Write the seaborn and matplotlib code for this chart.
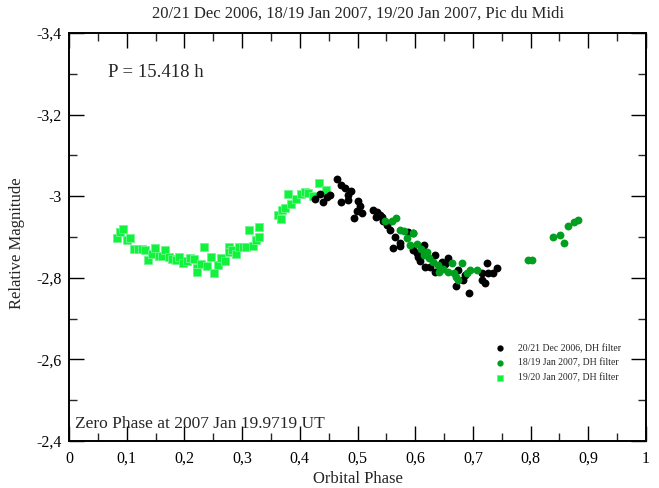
import numpy as np
import pandas as pd
import matplotlib
matplotlib.use("Agg")
import matplotlib.pyplot as plt
from matplotlib.ticker import MultipleLocator, FuncFormatter
import seaborn as sns

# 19/20 Jan 2007 (bright green squares)
jan20_phase = [0.083, 0.088, 0.094, 0.100, 0.106, 0.113, 0.120, 0.127, 0.132, 0.137,
               0.144, 0.149, 0.156, 0.161, 0.166, 0.173, 0.179, 0.185, 0.191, 0.198,
               0.205, 0.210, 0.217, 0.222, 0.222, 0.229, 0.234, 0.239, 0.246, 0.251,
               0.258, 0.263, 0.270, 0.277, 0.277, 0.283, 0.289, 0.295, 0.302, 0.307,
               0.312, 0.319, 0.324, 0.329, 0.329, 0.362, 0.367, 0.369, 0.374, 0.385,
               0.393, 0.379, 0.402, 0.409, 0.415, 0.423, 0.434, 0.446]
jan20_mag = [-2.898, -2.912, -2.920, -2.893, -2.898, -2.871, -2.871, -2.871, -2.868, -2.844,
             -2.858, -2.873, -2.853, -2.853, -2.868, -2.851, -2.846, -2.844, -2.851, -2.836,
             -2.841, -2.849, -2.846, -2.824, -2.814, -2.834, -2.876, -2.829, -2.851, -2.812,
             -2.831, -2.849, -2.841, -2.876, -2.863, -2.868, -2.858, -2.876, -2.876, -2.876,
             -2.917, -2.878, -2.893, -2.900, -2.925, -2.955, -2.944, -2.966, -2.972, -2.980,
             -2.993, -3.005, -3.005, -3.011, -3.009, -3.001, -3.032, -3.015]

# 20/21 Dec 2006 (black circles)
dec21_phase = [0.426, 0.435, 0.441, 0.447, 0.452, 0.464, 0.472, 0.478, 0.488, 0.483,
               0.471, 0.484, 0.500, 0.504, 0.499, 0.507, 0.494, 0.526, 0.533, 0.539,
               0.532, 0.542, 0.544, 0.551, 0.556, 0.565, 0.574, 0.561, 0.588, 0.596,
               0.574, 0.597, 0.603, 0.605, 0.608, 0.615, 0.634, 0.617, 0.626, 0.646,
               0.652, 0.657, 0.634, 0.671, 0.683, 0.686, 0.694, 0.715, 0.715, 0.721,
               0.725, 0.727, 0.734, 0.741, 0.675]
dec21_mag = [-2.992, -3.005, -2.985, -2.999, -3.003, -3.041, -3.027, -3.019, -3.013, -3.002,
             -2.987, -2.991, -2.989, -2.977, -2.964, -2.958, -2.946, -2.966, -2.962, -2.954,
             -2.950, -2.950, -2.938, -2.929, -2.917, -2.901, -2.878, -2.872, -2.913, -2.909,
             -2.885, -2.868, -2.860, -2.852, -2.842, -2.880, -2.856, -2.827, -2.827, -2.839,
             -2.834, -2.848, -2.815, -2.779, -2.795, -2.807, -2.762, -2.811, -2.795, -2.787,
             -2.837, -2.811, -2.811, -2.823, -2.819]

# 18/19 Jan 2007 (dark green circles)
jan19_phase = [0.548, 0.559, 0.567, 0.574, 0.581, 0.585, 0.591, 0.597, 0.603, 0.610,
               0.620, 0.615, 0.624, 0.631, 0.640, 0.663, 0.681, 0.648, 0.657, 0.642,
               0.667, 0.671, 0.675, 0.689, 0.695, 0.707, 0.796, 0.802, 0.839, 0.851,
               0.858, 0.864, 0.875, 0.883]
jan19_mag = [-2.938, -2.938, -2.946, -2.917, -2.915, -2.897, -2.880, -2.911, -2.882, -2.870,
             -2.864, -2.856, -2.848, -2.839, -2.831, -2.837, -2.836, -2.821, -2.815, -2.813,
             -2.811, -2.803, -2.795, -2.811, -2.819, -2.819, -2.844, -2.844, -2.899, -2.905,
             -2.886, -2.928, -2.936, -2.942]

labels = ["20/21 Dec 2006, DH filter", "18/19 Jan 2007, DH filter", "19/20 Jan 2007, DH filter"]
x_ticks = [0, 0.1, 0.2, 0.3, 0.4, 0.5, 0.6, 0.7, 0.8, 0.9, 1.0]
y_ticks = [-3.4, -3.2, -3.0, -2.8, -2.6, -2.4]

sns.set_style("ticks")
plt.rcParams["font.family"] = ["Liberation Serif", "DejaVu Serif"]

fig = plt.figure(figsize=(6.59, 4.88), dpi=100)
ax = fig.add_axes([69 / 659, 1 - 441 / 488, 577 / 659, 408 / 488])

df_dec = pd.DataFrame({"phase": dec21_phase, "mag": dec21_mag})
df_j19 = pd.DataFrame({"phase": jan19_phase, "mag": jan19_mag})
df_j20 = pd.DataFrame({"phase": jan20_phase, "mag": jan20_mag})

sns.scatterplot(data=df_j20, x="phase", y="mag", ax=ax, marker="s", s=26,
                color="#10f23c", edgecolor="#70f590", linewidth=0.6, label=labels[2], zorder=3)
sns.scatterplot(data=df_dec, x="phase", y="mag", ax=ax, marker="o", s=32,
                color="black", edgecolor="black", linewidth=0, label=labels[0], zorder=4)
sns.scatterplot(data=df_j19, x="phase", y="mag", ax=ax, marker="o", s=32,
                color="#00a01e", edgecolor="#00a01e", linewidth=0, label=labels[1], zorder=5)

ax.set_xlim(0.0, 1.0)
ax.set_ylim(-2.4, -3.4)
ax.set_xticks(x_ticks)
ax.set_yticks(y_ticks)
ax.xaxis.set_minor_locator(MultipleLocator(0.05))
ax.yaxis.set_minor_locator(MultipleLocator(0.1))


def fmt(v, pos):
    s = f"{v:.1f}"
    if s.endswith(".0"):
        s = s[:-2]
    if s == "-0":
        s = "0"
    return s.replace(".", ",")


ax.xaxis.set_major_formatter(FuncFormatter(fmt))
ax.yaxis.set_major_formatter(FuncFormatter(fmt))
ax.tick_params(which="major", direction="in", length=11, width=1.0, top=True, right=True,
               labelsize=11.5, colors="black")
ax.tick_params(axis="x", which="major", pad=7)
ax.tick_params(axis="y", which="major", pad=5)
ax.tick_params(which="minor", direction="in", length=5.5, width=1.0, top=True, right=True)
for sp in ax.spines.values():
    sp.set_linewidth(1.4)
    sp.set_color("black")

ax.set_xlabel("Orbital Phase", fontsize=12, labelpad=3)
ax.set_ylabel("Relative Magnitude", fontsize=12)
ax.yaxis.set_label_coords(-0.077, 0.485)
fig.text(358 / 659, 1 - 14 / 488, "20/21 Dec 2006, 18/19 Jan 2007, 19/20 Jan 2007, Pic du Midi",
         ha="center", va="center", fontsize=12)

ax.text(0.068, -3.302, "P = 15.418 h", fontsize=13.5, ha="left", va="center")
ax.text(0.010, -2.442, "Zero Phase at 2007 Jan 19.9719 UT", fontsize=12.5, ha="left", va="center")

handles, lbls = ax.get_legend_handles_labels()
order = [lbls.index(l) for l in labels]
ax.legend([handles[i] for i in order], [lbls[i] for i in order], loc="lower right",
          bbox_to_anchor=(0.968, 0.127), frameon=False, fontsize=7, markerscale=0.8,
          handletextpad=0.8, labelspacing=0.55, borderpad=0.2)

fig.savefig("out.png", dpi=100)
